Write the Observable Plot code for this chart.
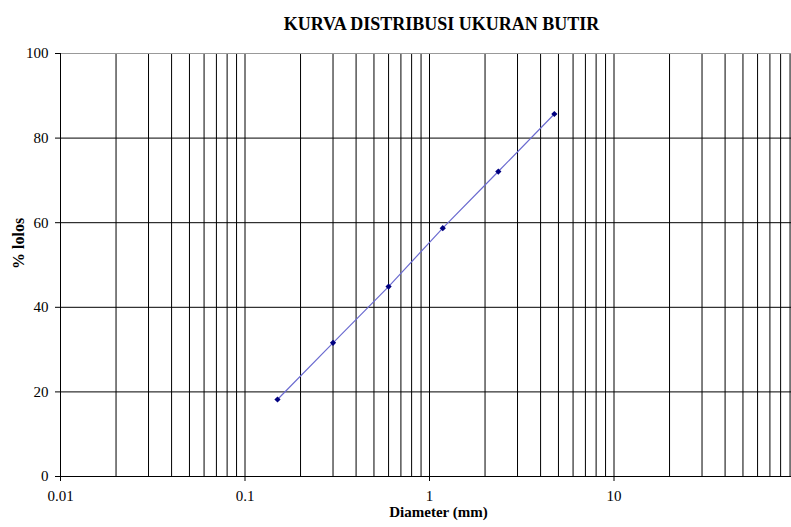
<!DOCTYPE html>
<html>
<head>
<meta charset="utf-8">
<script src="https://cdn.jsdelivr.net/npm/d3@7"></script>
<script src="https://cdn.jsdelivr.net/npm/@observablehq/plot@0.6"></script>
<style>
  html, body { margin: 0; padding: 0; background: #fff; overflow: hidden; }
  #chart { width: 791px; height: 527px; overflow: hidden; }
</style>
</head>
<body>
<div id="chart"></div>
<script>
// Sieve analysis: particle diameter (mm) vs. cumulative percent passing
const diameters = [0.15, 0.3, 0.6, 1.18, 2.36, 4.75];
const percentPassing = [18.2, 31.6, 44.9, 58.7, 72.1, 85.7];

const xTickValues = [0.01, 0.1, 1, 10];
const xTickLabels = ["0.01", "0.1", "1", "10"];
const yTickValues = [0, 20, 40, 60, 80, 100];

const titleText = "KURVA DISTRIBUSI UKURAN BUTIR";
const xLabel = "Diameter (mm)";
const yLabel = "% lolos";

const rows = diameters.map((d, i) => ({diameter: d, passing: percentPassing[i]}));

// Log-paper grid: lines at 1..9 of every decade
const decades = [0.01, 0.1, 1, 10];
const logGrid = decades.flatMap(dec => d3.range(1, 10).map(k => +(k * dec).toPrecision(3))).concat([100]);

const serif = "'Liberation Serif', 'Times New Roman', serif";

const plot = Plot.plot({
  width: 798,
  height: 527,
  marginLeft: 60,
  marginRight: 0,
  marginTop: 53,
  marginBottom: 51,
  x: {type: "log", domain: [0.01, 100]},
  y: {domain: [0, 100]},
  style: {
    fontFamily: serif,
    fontSize: "15px",
    color: "#000",
    background: "#fff",
    maxWidth: "none"
  },
  marks: [
    Plot.ruleX(logGrid, {stroke: "#000", strokeWidth: 1}),
    Plot.ruleY([20, 40, 60, 80], {stroke: "#000", strokeWidth: 1}),
    Plot.ruleY([100], {stroke: "#999", strokeWidth: 1}),
    Plot.ruleY([0], {stroke: "#000"}),
    Plot.ruleX([0.01], {stroke: "#000"}),
    Plot.axisX({
      ticks: xTickValues,
      tickFormat: d => xTickLabels[xTickValues.indexOf(d)],
      tickSize: 5,
      tickPadding: 9,
      fontSize: 15,
      label: null
    }),
    Plot.axisY({
      ticks: yTickValues,
      tickSize: 5,
      tickPadding: 7,
      fontSize: 15,
      label: null
    }),
    Plot.line(rows, {x: "diameter", y: "passing", stroke: "#6b6bd0", strokeWidth: 1.2}),
    Plot.dot(rows, {x: "diameter", y: "passing", symbol: "diamond2", r: 2.8, fill: "#000080", stroke: "none"}),
    Plot.text([titleText], {
      text: d => d, frameAnchor: "top", dx: 12, dy: -36,
      fontWeight: "bold", fontSize: 18
    }),
    Plot.text([xLabel], {
      text: d => d, frameAnchor: "bottom", dx: 9, dy: 40,
      fontWeight: "bold", fontSize: 15
    }),
    Plot.text([yLabel], {
      text: d => d, frameAnchor: "left", dx: -42, dy: 4, rotate: -90,
      fontWeight: "bold", fontSize: 16
    })
  ]
});

document.getElementById("chart").appendChild(plot);
</script>
</body>
</html>
